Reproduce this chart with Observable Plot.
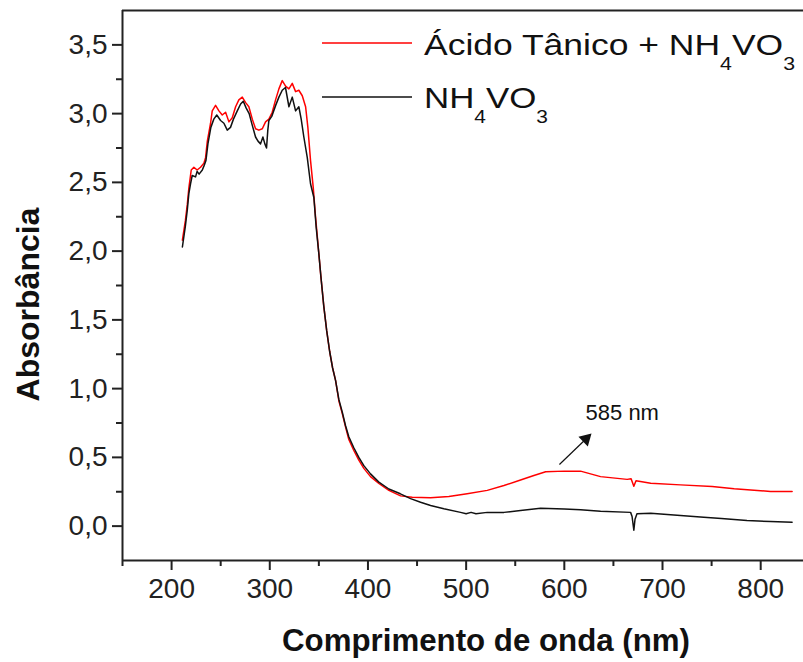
<!DOCTYPE html>
<html>
<head>
<meta charset="utf-8">
<script src="https://cdn.jsdelivr.net/npm/d3@7"></script>
<script src="https://cdn.jsdelivr.net/npm/@observablehq/plot@0.6"></script>
<style>
  body { margin: 0; background: #fff; }
  #chart { width: 803px; height: 662px; }
</style>
</head>
<body>
<div id="chart"></div>
<script>
// ---- data ----
const redNm = [211,214,216,217.6,220,222.7,226,229.5,232.9,234.6,236.4,239.7,241.4,244.8,248.2,251.6,255,258.4,261.8,265.2,268.5,272,275.4,278.7,282.2,285.5,288.9,292.4,295.7,299.1,302.5,305.9,309.3,312.7,316.1,319.5,322.9,326.3,329.6,333.1,336.5,338.8,341.5,344.3,346.6,350,352,355,358,361,364,367,370.4,373.8,377.2,380.5,385.6,390.7,395.8,402.6,411.1,421.3,433.2,445.1,463.7,482.4,501,521.5,538.5,555.4,569,581,600,616.5,636.9,664,668,670.8,673,688,718.3,750.6,773,810,832];
const redAbs = [2.08,2.22,2.34,2.46,2.59,2.61,2.59,2.61,2.64,2.68,2.80,2.93,3.02,3.06,3.02,2.99,3.01,2.94,2.97,3.05,3.10,3.12,3.08,3.05,2.96,2.89,2.88,2.89,2.94,2.96,3.01,3.10,3.18,3.24,3.20,3.18,3.22,3.16,3.17,3.13,3.05,2.90,2.66,2.46,2.25,1.98,1.82,1.60,1.42,1.27,1.15,1.06,0.91,0.82,0.72,0.63,0.55,0.48,0.42,0.36,0.31,0.26,0.22,0.21,0.206,0.215,0.235,0.26,0.295,0.335,0.368,0.395,0.40,0.40,0.36,0.34,0.345,0.29,0.33,0.312,0.30,0.288,0.271,0.252,0.252];

const blkNm = [211,214,216,217.6,219.3,221,224.4,226,228,231.3,233,235,237,240,243,246,249.9,253.3,256.7,260,263,266.9,270.3,273,276,279,282,285.5,288,290.6,293,295,296.7,298,299.1,302,306,309.3,312.7,316,319.5,322.9,326.3,329.6,332,334.7,338.2,341.5,344.9,347.3,350,352,355,358,361,364,367,370.4,373.8,377.2,380.5,385.6,390.7,395.8,402.6,411.1,421.3,433,443.4,453.6,463.8,477.3,494.3,500,505,510,521.5,538.5,555.4,575.8,600,616.5,636.9,667.5,669,670.8,672,674,688,718.3,742,760,786,810,832];
const blkAbs = [2.03,2.18,2.30,2.42,2.49,2.55,2.54,2.58,2.56,2.59,2.62,2.66,2.78,2.90,2.96,2.99,2.95,2.93,2.88,2.90,2.96,3.02,3.07,3.09,3.04,3.00,2.92,2.83,2.80,2.78,2.83,2.78,2.75,2.88,2.95,2.98,3.06,3.12,3.17,3.19,3.05,3.12,3.02,3.05,2.96,2.83,2.68,2.49,2.39,2.17,1.98,1.82,1.60,1.42,1.27,1.15,1.06,0.92,0.83,0.73,0.65,0.57,0.50,0.44,0.38,0.32,0.27,0.235,0.20,0.174,0.15,0.126,0.10,0.09,0.10,0.09,0.10,0.10,0.113,0.13,0.125,0.119,0.108,0.10,0.07,-0.03,0.05,0.09,0.094,0.077,0.065,0.055,0.041,0.033,0.028];

const xTicks = [200,300,400,500,600,700,800];
const xMinor = [150,250,350,450,550,650,750];
const yTicks = [0,0.5,1,1.5,2,2.5,3,3.5];
const yMinor = [0.25,0.75,1.25,1.75,2.25,2.75,3.25];

const xTitle = "Comprimento de onda (nm)";
const yTitle = "Absorbância";
// series names split into [text, subscript, text, subscript]
const seriesRed = ["Ácido Tânico + NH", "4", "VO", "3"];
const seriesBlk = ["NH", "4", "VO", "3"];
const seriesColors = ["#ff0000", "#111111"];

const peakText = ["585 nm"];
const peakTextNm = [659];
const peakTextAbs = [0.826];
const arrowNm = [595, 622];
const arrowAbs = [0.448, 0.634];

// ---- build tables ----
const red = redNm.map((x, i) => ({x, y: redAbs[i]}));
const blk = blkNm.map((x, i) => ({x, y: blkAbs[i]}));
const fmt = d => d.toFixed(1).replace(".", ",");
const FONT = "'Liberation Sans', Arial, sans-serif";
const AX = "#222";

const plot = Plot.plot({
  width: 803,
  height: 662,
  marginLeft: 122,
  marginRight: 0,
  marginTop: 10,
  marginBottom: 102,
  x: {domain: [150, 843.6]},
  y: {domain: [-0.25, 3.75]},
  style: {fontFamily: FONT, fontSize: "28px", color: AX, background: "#fff"},
  marks: [
    Plot.axisX(xTicks, {tickSize: 10, tickPadding: 8, tickFormat: d => String(d), label: null, strokeWidth: 2, stroke: AX, fill: AX, fontSize: 28}),
    Plot.axisX(xMinor, {tickSize: 6, text: null, label: null, strokeWidth: 2, stroke: AX}),
    Plot.axisY(yTicks, {tickSize: 10, tickPadding: 5, tickFormat: fmt, label: null, strokeWidth: 2, stroke: AX, fill: AX, fontSize: 28}),
    Plot.axisY(yMinor, {tickSize: 6, text: null, label: null, strokeWidth: 2, stroke: AX}),
    Plot.ruleX([150], {stroke: AX, strokeWidth: 2}),
    Plot.ruleY([-0.25], {stroke: AX, strokeWidth: 2}),
    Plot.ruleY([3.75], {stroke: AX, strokeWidth: 2}),
    Plot.line(red, {x: "x", y: "y", stroke: seriesColors[0], strokeWidth: 1.5}),
    Plot.line(blk, {x: "x", y: "y", stroke: seriesColors[1], strokeWidth: 1.5}),
    Plot.link([0], {x1: () => arrowNm[0], y1: () => arrowAbs[0], x2: () => arrowNm[1], y2: () => arrowAbs[1], stroke: "#111", strokeWidth: 1.2}),
    Plot.dot([0], {x: () => arrowNm[1], y: () => arrowAbs[1], symbol: "triangle", r: 5, rotate: 46, fill: "#111", stroke: null}),
    Plot.text(peakText, {x: (d, i) => peakTextNm[i], y: (d, i) => peakTextAbs[i], text: d => d, fontSize: 22, fill: "#111", fontFamily: FONT, letterSpacing: 2})
  ]
});

document.getElementById("chart").appendChild(plot);

// ---- titles and legend (text overlay inside the same SVG) ----
const svg = d3.select(plot);
svg.append("text")
  .attr("x", 486).attr("y", 651)
  .attr("text-anchor", "middle")
  .attr("font-family", FONT).attr("font-size", 31).attr("font-weight", "bold")
  .attr("textLength", 408).attr("lengthAdjust", "spacingAndGlyphs")
  .attr("fill", "#111")
  .text(xTitle);
svg.append("text")
  .attr("transform", "translate(39,304.5) rotate(-90)")
  .attr("text-anchor", "middle")
  .attr("font-family", FONT).attr("font-size", 32).attr("font-weight", "bold")
  .attr("fill", "#111")
  .text(yTitle);

function legendRow(parts, color, lineY, baseY, len) {
  svg.append("line")
    .attr("x1", 322).attr("x2", 412).attr("y1", lineY).attr("y2", lineY)
    .attr("stroke", color).attr("stroke-width", 1.5);
  const t = svg.append("text")
    .attr("x", 424).attr("y", baseY)
    .attr("text-anchor", "start")
    .attr("font-family", FONT).attr("font-size", 30)
    .attr("textLength", len).attr("lengthAdjust", "spacingAndGlyphs")
    .attr("fill", "#111");
  t.append("tspan").text(parts[0]);
  t.append("tspan").attr("font-size", 18).attr("dy", 15).text(parts[1]);
  t.append("tspan").attr("dy", -15).text(parts[2]);
  t.append("tspan").attr("font-size", 18).attr("dy", 15).text(parts[3]);
}
legendRow(seriesRed, seriesColors[0], 43, 55, 371);
legendRow(seriesBlk, seriesColors[1], 97, 108, 124);
</script>
</body>
</html>
